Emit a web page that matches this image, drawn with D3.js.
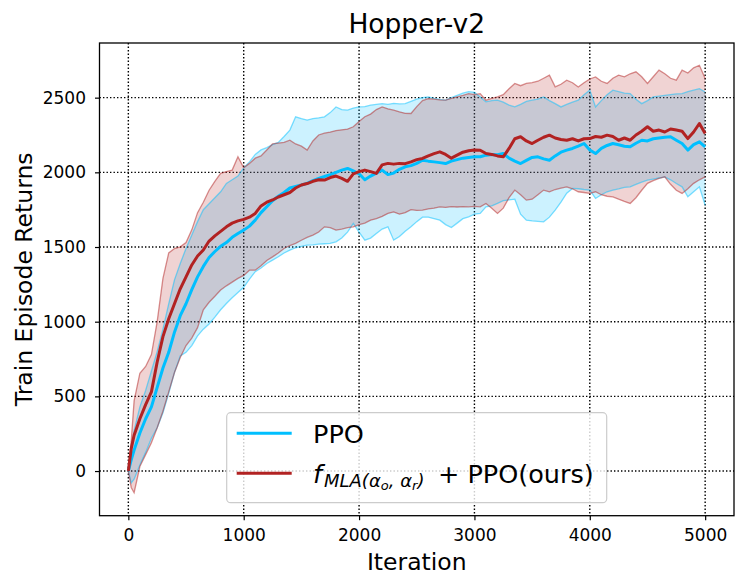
<!DOCTYPE html>
<html>
<head>
<meta charset="utf-8">
<script src="https://cdn.jsdelivr.net/npm/d3@7"></script>
<style>
  body { margin: 0; background: #fff; }
  svg { font-family: "DejaVu Sans", sans-serif; }
</style>
</head>
<body>
<div id="chart"></div>
<script>
const iters = [0, 25,
  50, 100, 150, 200, 250, 300, 350, 400, 450, 500,
  550, 600, 650, 700, 750, 800, 850, 900, 950, 1000,
  1050, 1100, 1150, 1200, 1250, 1300, 1350, 1400, 1450, 1500,
  1550, 1600, 1650, 1700, 1750, 1800, 1850, 1900, 1950, 2000,
  2050, 2100, 2150, 2200, 2250, 2300, 2350, 2400, 2450, 2500,
  2550, 2600, 2650, 2700, 2750, 2800, 2850, 2900, 2950, 3000,
  3050, 3100, 3150, 3200, 3250, 3300, 3350, 3400, 3450, 3500,
  3550, 3600, 3650, 3700, 3750, 3800, 3850, 3900, 3950, 4000,
  4050, 4100, 4150, 4200, 4250, 4300, 4350, 4400, 4450, 4500,
  4550, 4600, 4650, 4700, 4750, 4800, 4850, 4900, 4950, 5000];

// PPO
const ppoMean = [0, 75,
  140, 255, 350, 430, 560, 690, 795, 930, 1040, 1120,
  1215, 1300, 1370, 1430, 1470, 1505, 1530, 1565, 1590, 1613,
  1640, 1680, 1730, 1770, 1810, 1840, 1865, 1895, 1905, 1915,
  1926, 1945, 1960, 1972, 1985, 2000, 2015, 2026, 2010, 1990,
  1950, 1975, 1995, 2015, 1985, 1995, 2020, 2037, 2045, 2060,
  2081, 2075, 2070, 2065, 2059, 2075, 2085, 2095, 2100, 2104,
  2104, 2115, 2120, 2118, 2126, 2095, 2075, 2059, 2080, 2100,
  2104, 2090, 2081, 2110, 2135, 2149, 2160, 2175, 2193, 2150,
  2126, 2160, 2180, 2193, 2185, 2175, 2171, 2195, 2215, 2210,
  2225, 2230, 2235, 2238, 2215, 2193, 2149, 2185, 2204, 2171];
const ppoUpper = [0, 150,
  270, 430, 540, 670, 800, 950, 1120, 1280, 1390, 1490,
  1580, 1670, 1750, 1790, 1830, 1870, 1926, 1950, 1975, 2030,
  2070, 2120, 2150, 2165, 2185, 2200, 2240, 2283, 2372, 2360,
  2350, 2360, 2365, 2372, 2400, 2438, 2420, 2416, 2430, 2438,
  2440, 2450, 2455, 2460, 2455, 2462, 2458, 2460, 2475, 2490,
  2500, 2505, 2495, 2488, 2483, 2500, 2515, 2530, 2540, 2535,
  2505, 2472, 2480, 2483, 2470, 2450, 2438, 2455, 2475, 2483,
  2490, 2505, 2480, 2460, 2438, 2455, 2470, 2483, 2520, 2550,
  2438, 2480, 2520, 2550, 2540, 2530, 2527, 2490, 2460, 2480,
  2505, 2510, 2515, 2520, 2525, 2527, 2540, 2550, 2560, 2538];
const ppoLower = [0, -80,
  -55, 40, 125, 220, 290, 390, 520, 660, 770, 795,
  840, 905, 950, 985, 1030, 1080, 1122, 1160, 1195, 1230,
  1285, 1335, 1360, 1390, 1412, 1435, 1460, 1479, 1495, 1505,
  1512, 1515, 1520, 1522, 1524, 1535, 1560, 1600, 1658, 1600,
  1546, 1560, 1590, 1620, 1635, 1546, 1570, 1605, 1635, 1670,
  1700, 1700, 1690, 1680, 1650, 1630, 1660, 1690, 1702, 1720,
  1725, 1769, 1775, 1792, 1810, 1815, 1820, 1720, 1680, 1675,
  1672, 1669, 1700, 1747, 1800, 1860, 1892, 1890, 1885, 1881,
  1825, 1850, 1870, 1881, 1890, 1900, 1903, 1920, 1935, 1948,
  1955, 1962, 1970, 1950, 1925, 1903, 1836, 1870, 1903, 1780];

// f_MLA + PPO (ours)
const oursMean = [0, 150,
  240, 350, 445, 530, 730, 900, 1020, 1120, 1220, 1300,
  1380, 1440, 1480, 1540, 1575, 1605, 1635, 1660, 1675, 1685,
  1700, 1725, 1775, 1800, 1815, 1835, 1850, 1865, 1895, 1915,
  1925, 1940, 1950, 1948, 1965, 1975, 1960, 1940, 1990, 2005,
  2015, 2005, 1993, 2050, 2060, 2055, 2060, 2058, 2070, 2085,
  2093, 2110, 2125, 2137, 2120, 2095, 2115, 2135, 2145, 2150,
  2148, 2126, 2120, 2110, 2104, 2160, 2225, 2238, 2210, 2193,
  2215, 2235, 2249, 2230, 2220, 2215, 2225, 2210, 2225, 2226,
  2240, 2235, 2249, 2240, 2215, 2230, 2215, 2250, 2275, 2305,
  2275, 2283, 2270, 2290, 2283, 2275, 2226, 2270, 2327, 2260];
const oursUpper = [0, 200,
  470, 655, 700, 780, 1000, 1290, 1460, 1490, 1501, 1530,
  1615, 1730, 1800, 1880, 1940, 1993, 2005, 2015, 2104, 2030,
  2060, 2095, 2110, 2150, 2190, 2195, 2200, 2215, 2190, 2175,
  2149, 2210, 2250, 2262, 2270, 2280, 2285, 2290, 2305, 2340,
  2372, 2390, 2420, 2438, 2425, 2416, 2405, 2395, 2394, 2440,
  2480, 2494, 2490, 2485, 2483, 2495, 2505, 2515, 2527, 2520,
  2527, 2483, 2495, 2505, 2520, 2560, 2595, 2580, 2595, 2600,
  2610, 2630, 2651, 2572, 2590, 2617, 2600, 2572, 2600, 2625,
  2639, 2610, 2595, 2630, 2651, 2640, 2660, 2673, 2640, 2595,
  2640, 2684, 2660, 2630, 2617, 2684, 2665, 2700, 2717, 2628];
const oursLower = [0, -110,
  -145, 30, 110, 190, 290, 400, 530, 660, 760, 840,
  890, 960, 1080, 1130, 1170, 1212, 1240, 1265, 1290, 1310,
  1345, 1345, 1375, 1410, 1434, 1460, 1490, 1510, 1524, 1545,
  1565, 1580, 1600, 1635, 1630, 1613, 1620, 1630, 1635, 1650,
  1660, 1680, 1690, 1705, 1725, 1735, 1720, 1730, 1750, 1745,
  1747, 1755, 1760, 1769, 1765, 1770, 1768, 1770, 1769, 1772,
  1769, 1791, 1760, 1725, 1760, 1830, 1881, 1850, 1814, 1820,
  1850, 1881, 1870, 1885, 1895, 1903, 1890, 1870, 1865, 1859,
  1870, 1850, 1840, 1836, 1820, 1805, 1792, 1830, 1880, 1926,
  1945, 1960, 1970, 1920, 1880, 1859, 1890, 1926, 1950, 1970];

const xTicks = [0, 1000, 2000, 3000, 4000, 5000];
const yTicks = [0, 500, 1000, 1500, 2000, 2500];

const width = 747, height = 588;
const plotL = 99.5, plotR = 734, plotT = 43, plotB = 515.7;

const x = d3.scaleLinear().domain([-250, 5250]).range([plotL, plotR]);
const y = d3.scaleLinear().domain([-299, 2866]).range([plotB, plotT]);

const svg = d3.select("#chart").append("svg")
    .attr("width", width)
    .attr("height", height);

// dotted grid
const grid = svg.append("g")
    .attr("stroke", "#000")
    .attr("stroke-width", 1.4)
    .attr("stroke-dasharray", "1.4,2.1");
grid.selectAll(".gx").data(xTicks).join("line")
    .attr("x1", d => x(d)).attr("x2", d => x(d))
    .attr("y1", plotT).attr("y2", plotB);
grid.selectAll(".gy").data(yTicks).join("line")
    .attr("x1", plotL).attr("x2", plotR)
    .attr("y1", d => y(d)).attr("y2", d => y(d));

const series = [
  {name: "PPO", color: "#00bfff", mean: ppoMean, lo: ppoLower, hi: ppoUpper},
  {name: "ours", color: "#b22222", mean: oursMean, lo: oursLower, hi: oursUpper}
];

const area = d3.area()
    .x(d => x(d.it))
    .y0(d => y(d.lo))
    .y1(d => y(d.hi));
const line = d3.line()
    .x(d => x(d.it))
    .y(d => y(d.v));

const rows = s => iters.map((it, i) => ({it, lo: s.lo[i], hi: s.hi[i], m: s.mean[i]}));

// bands
series.forEach(s => {
  svg.append("path")
      .attr("d", area(rows(s)))
      .attr("fill", s.color)
      .attr("fill-opacity", 0.2);
});
series.forEach(s => {
  const r = rows(s);
  [r.map(d => ({it: d.it, v: d.lo})), r.map(d => ({it: d.it, v: d.hi}))].forEach(pts => {
    svg.append("path")
        .attr("d", line(pts))
        .attr("fill", "none")
        .attr("stroke", s.color)
        .attr("stroke-opacity", 0.5)
        .attr("stroke-width", 1.3);
  });
});
// means
series.forEach(s => {
  svg.append("path")
      .attr("d", line(rows(s).map(d => ({it: d.it, v: d.m}))))
      .attr("fill", "none")
      .attr("stroke", s.color)
      .attr("stroke-width", 3)
      .attr("stroke-linejoin", "round");
});

// axes
const xAxis = svg.append("g")
    .attr("transform", `translate(0,${plotB})`)
    .call(d3.axisBottom(x).tickValues(xTicks).tickSize(4.5).tickPadding(9).tickFormat(d3.format("d")));
const yAxis = svg.append("g")
    .attr("transform", `translate(${plotL},0)`)
    .call(d3.axisLeft(y).tickValues(yTicks).tickSize(4.5).tickPadding(9).tickFormat(d3.format("d")));
[xAxis, yAxis].forEach(a => {
  a.select(".domain").remove();
  a.selectAll("line").attr("stroke", "#000").attr("stroke-width", 1.2);
  a.selectAll("text").attr("font-size", 17).attr("fill", "#000")
      .attr("font-family", "DejaVu Sans");
});

// frame
svg.append("rect")
    .attr("x", plotL).attr("y", plotT)
    .attr("width", plotR - plotL).attr("height", plotB - plotT)
    .attr("fill", "none")
    .attr("stroke", "#000")
    .attr("stroke-width", 1.3);

// titles
svg.append("text")
    .attr("x", (plotL + plotR) / 2).attr("y", 33)
    .attr("text-anchor", "middle")
    .attr("font-size", 26.5)
    .text("Hopper-v2");
svg.append("text")
    .attr("x", (plotL + plotR) / 2).attr("y", 570)
    .attr("text-anchor", "middle")
    .attr("font-size", 23.5)
    .text("Iteration");
svg.append("text")
    .attr("transform", `translate(32,${(plotT + plotB) / 2}) rotate(-90)`)
    .attr("text-anchor", "middle")
    .attr("font-size", 23.5)
    .text("Train Episode Returns");

// legend
const lg = svg.append("g");
lg.append("rect")
    .attr("x", 226.7).attr("y", 412.7)
    .attr("width", 380).attr("height", 90)
    .attr("rx", 4)
    .attr("fill", "#fff").attr("fill-opacity", 0.8)
    .attr("stroke", "#cccccc").attr("stroke-width", 1.2);
[433.3, 473.3].forEach((ly, i) => {
  lg.append("line")
      .attr("x1", 236.7).attr("x2", 291.7)
      .attr("y1", ly).attr("y2", ly)
      .attr("stroke", series[i].color)
      .attr("stroke-width", 3);
});
lg.append("text")
    .attr("x", 313).attr("y", 442.7)
    .attr("font-size", 25.5)
    .text("PPO");
const t2 = lg.append("text")
    .attr("x", 313).attr("y", 483.3)
    .attr("font-size", 25.5)
    .style("white-space", "pre");
t2.append("tspan").attr("font-style", "italic").text("f");
t2.append("tspan").attr("font-style", "italic").attr("font-size", 18).attr("dx", 2).attr("dy", 4).text("MLA(α");
t2.append("tspan").attr("font-style", "italic").attr("font-size", 13).attr("dy", 3).text("o");
t2.append("tspan").attr("font-style", "italic").attr("font-size", 18).attr("dy", -3).text(", α");
t2.append("tspan").attr("font-style", "italic").attr("font-size", 13).attr("dy", 3).text("r");
t2.append("tspan").attr("font-style", "italic").attr("font-size", 18).attr("dy", -3).text(")");
t2.append("tspan").attr("x", 438).attr("dy", -4).text("+ PPO(ours)");
</script>
</body>
</html>
